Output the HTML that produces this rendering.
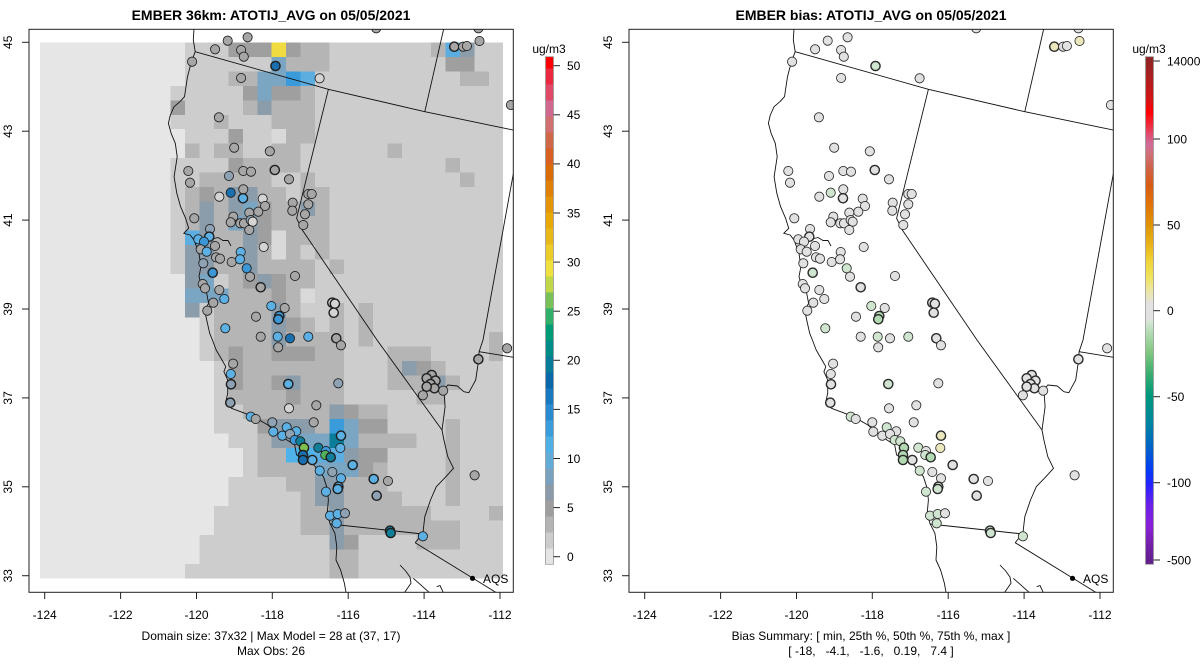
<!DOCTYPE html>
<html><head><meta charset="utf-8">
<style>
html,body{margin:0;padding:0;background:#fff;}
svg{display:block;font-family:"Liberation Sans",Arial,sans-serif;}
text{fill:#000;}
</style></head><body>
<svg id="s" width="1200" height="672" viewBox="0 0 1200 672" xmlns="http://www.w3.org/2000/svg">
<defs>
<clipPath id="clip"><rect x="29" y="29.3" width="484.3" height="563"/></clipPath>
<linearGradient id="bias" x1="0" y1="0" x2="0" y2="1">
<stop offset="0" stop-color="#8b2525"/><stop offset="0.036" stop-color="#a82020"/><stop offset="0.085" stop-color="#d41414"/><stop offset="0.109" stop-color="#ff0000"/><stop offset="0.133" stop-color="#f02838"/><stop offset="0.152" stop-color="#e04a6a"/><stop offset="0.172" stop-color="#d06c98"/><stop offset="0.192" stop-color="#d07078"/><stop offset="0.219" stop-color="#d06448"/><stop offset="0.253" stop-color="#d85c14"/><stop offset="0.292" stop-color="#e07408"/><stop offset="0.332" stop-color="#e09408"/><stop offset="0.371" stop-color="#e8b418"/><stop offset="0.404" stop-color="#f0d438"/><stop offset="0.436" stop-color="#f0e460"/><stop offset="0.459" stop-color="#ece6a0"/><stop offset="0.479" stop-color="#e6e4cc"/><stop offset="0.485" stop-color="#e2e2e2"/><stop offset="0.515" stop-color="#e2e2e2"/><stop offset="0.523" stop-color="#d2e6d2"/><stop offset="0.55" stop-color="#aad8aa"/><stop offset="0.582" stop-color="#80c880"/><stop offset="0.621" stop-color="#40b070"/><stop offset="0.668" stop-color="#00987c"/><stop offset="0.716" stop-color="#00889c"/><stop offset="0.765" stop-color="#0066c4"/><stop offset="0.81" stop-color="#0040f0"/><stop offset="0.842" stop-color="#2424ff"/><stop offset="0.883" stop-color="#6a20ea"/><stop offset="0.923" stop-color="#8a20d8"/><stop offset="0.962" stop-color="#7420aa"/><stop offset="1" stop-color="#602088"/>
</linearGradient>
<g id="lines" fill="none" stroke="#111" stroke-width="0.9" stroke-linejoin="round">
<polyline points="194,29 193.3,40 195.2,51.7 191.4,61.7 187.5,76.7 184.5,96.7 179.9,101.7 174.1,106.7 170.3,115 168.4,123.3 171.1,133.3 175.3,143.3 177.2,156.7 174.1,176.7 176.8,193.3 180.6,206.7 185.6,218.3 188.7,228.3 183.7,233.3 190.2,235 194,240 199,253.3 200.9,266.7 199,276.7 202,286.7 206.7,293.3 208.6,303.3 204.7,310 206.7,320 209.7,333.3 212.4,340 216.2,350 222,360 225.8,366.7 223.9,371.7 227.7,380 227.7,393.3 225.8,401.7 231.5,408.3 244.9,413.3 256.4,418.3 267.9,425 275.5,431.7 287,440 294.7,445 296.6,455 306.2,460 313.8,465 323.4,476.7 327.2,488.3 328.4,500 327.2,513.3 329.9,523.3 334.9,533.3 336.8,546.7 336,560 340.6,570 344.4,583.3 346.3,594"/>
<polyline points="204,240 212,239 218,237.5 223,240.5 228,240.5 231,246"/>
<polyline points="195.2,51.7 328.4,89.3 424.8,111.7 514,130.2"/>
<polyline points="328.4,89.3 296.6,218.3 302.3,230 377,340 442,430"/>
<polyline points="424.8,111.7 443.9,28"/>
<polyline points="514,170 483,340 479.1,351.7 514,357.4"/>
<polyline points="479.1,351.7 478.4,361.7 475.7,380 468.8,392.7 463.8,391.7 457.3,386 447.8,385 443.9,390 445.1,406.7 442,430 443.9,440 447.8,456.7 453.5,468.3 445.9,476.7 436.3,486.7 430.5,500 424.8,516.7 422.9,533.3 415.2,542.7"/>
<polyline points="329.9,524 422.9,534"/>
<polyline points="415.2,542.7 473,578.3 498.5,594"/>
<polyline points="400,565 405.7,571 410,577 411,583.3 403.5,594"/>
<polyline points="413.3,578.3 431,594"/>
<polyline points="436.7,586.7 440,585.5 444,594"/>
</g>
</defs>

<!-- LEFT PANEL -->
<g id="p1">
<text x="271" y="20" text-anchor="middle" font-weight="bold" font-size="14">EMBER 36km: ATOTIJ_AVG on 05/05/2021</text>
<g id="grid" clip-path="url(#clip)" shape-rendering="crispEdges"></g>
<g clip-path="url(#clip)"><use href="#lines"/></g>
<g id="c1" clip-path="url(#clip)"></g>
<circle cx="472.5" cy="578.3" r="2.6" fill="#000"/>
<text x="483" y="583" font-size="12">AQS</text>
<rect x="29" y="29.3" width="484.3" height="563" fill="none" stroke="#222" stroke-width="1"/>
<g stroke="#222" stroke-width="1">
<line x1="44.7" y1="592.3" x2="44.7" y2="599"/><line x1="120.6" y1="592.3" x2="120.6" y2="599"/><line x1="196.5" y1="592.3" x2="196.5" y2="599"/><line x1="272.3" y1="592.3" x2="272.3" y2="599"/><line x1="348.2" y1="592.3" x2="348.2" y2="599"/><line x1="424.1" y1="592.3" x2="424.1" y2="599"/><line x1="500" y1="592.3" x2="500" y2="599"/>
<line x1="22" y1="42.3" x2="29" y2="42.3"/><line x1="22" y1="131.2" x2="29" y2="131.2"/><line x1="22" y1="220.1" x2="29" y2="220.1"/><line x1="22" y1="309" x2="29" y2="309"/><line x1="22" y1="397.9" x2="29" y2="397.9"/><line x1="22" y1="486.8" x2="29" y2="486.8"/><line x1="22" y1="575.7" x2="29" y2="575.7"/>
</g>
<g font-size="12" text-anchor="middle">
<text x="44.7" y="619">-124</text><text x="120.6" y="619">-122</text><text x="196.5" y="619">-120</text><text x="272.3" y="619">-118</text><text x="348.2" y="619">-116</text><text x="424.1" y="619">-114</text><text x="500" y="619">-112</text>
<text transform="translate(11.8,42.3) rotate(-90)">45</text>
<text transform="translate(11.8,131.2) rotate(-90)">43</text>
<text transform="translate(11.8,220.1) rotate(-90)">41</text>
<text transform="translate(11.8,309) rotate(-90)">39</text>
<text transform="translate(11.8,397.9) rotate(-90)">37</text>
<text transform="translate(11.8,486.8) rotate(-90)">35</text>
<text transform="translate(11.8,575.7) rotate(-90)">33</text>
<text x="271" y="640">Domain size: 37x32 | Max Model = 28 at (37, 17)</text>
<text x="271" y="655">Max Obs: 26</text>
<text x="549" y="53">ug/m3</text>
</g>
<g id="cb1" shape-rendering="crispEdges"></g>
<rect x="545.5" y="56.7" width="8" height="507.6" fill="none" stroke="#999" stroke-width="0.8"/>
<g stroke="#222" stroke-width="1">
<line x1="553.5" y1="556.7" x2="560" y2="556.7"/><line x1="553.5" y1="507.6" x2="560" y2="507.6"/><line x1="553.5" y1="458.5" x2="560" y2="458.5"/><line x1="553.5" y1="409.4" x2="560" y2="409.4"/><line x1="553.5" y1="360.3" x2="560" y2="360.3"/><line x1="553.5" y1="311.2" x2="560" y2="311.2"/><line x1="553.5" y1="262.1" x2="560" y2="262.1"/><line x1="553.5" y1="213" x2="560" y2="213"/><line x1="553.5" y1="163.9" x2="560" y2="163.9"/><line x1="553.5" y1="114.8" x2="560" y2="114.8"/><line x1="553.5" y1="65.7" x2="560" y2="65.7"/>
</g>
<g font-size="12">
<text x="567" y="561">0</text><text x="567" y="511.9">5</text><text x="567" y="462.8">10</text><text x="567" y="413.7">15</text><text x="567" y="364.6">20</text><text x="567" y="315.5">25</text><text x="567" y="266.4">30</text><text x="567" y="217.3">35</text><text x="567" y="168.2">40</text><text x="567" y="119.1">45</text><text x="567" y="70">50</text>
</g>
</g>

<!-- RIGHT PANEL -->
<g id="p2" transform="translate(600,0)">
<text x="271" y="20" text-anchor="middle" font-weight="bold" font-size="14">EMBER bias: ATOTIJ_AVG on 05/05/2021</text>
<g clip-path="url(#clip)"><use href="#lines"/></g>
<g id="c2" clip-path="url(#clip)"></g>
<circle cx="472.5" cy="578.3" r="2.6" fill="#000"/>
<text x="483" y="583" font-size="12">AQS</text>
<rect x="29" y="29.3" width="484.3" height="563" fill="none" stroke="#222" stroke-width="1"/>
<g stroke="#222" stroke-width="1">
<line x1="44.7" y1="592.3" x2="44.7" y2="599"/><line x1="120.6" y1="592.3" x2="120.6" y2="599"/><line x1="196.5" y1="592.3" x2="196.5" y2="599"/><line x1="272.3" y1="592.3" x2="272.3" y2="599"/><line x1="348.2" y1="592.3" x2="348.2" y2="599"/><line x1="424.1" y1="592.3" x2="424.1" y2="599"/><line x1="500" y1="592.3" x2="500" y2="599"/>
<line x1="22" y1="42.3" x2="29" y2="42.3"/><line x1="22" y1="131.2" x2="29" y2="131.2"/><line x1="22" y1="220.1" x2="29" y2="220.1"/><line x1="22" y1="309" x2="29" y2="309"/><line x1="22" y1="397.9" x2="29" y2="397.9"/><line x1="22" y1="486.8" x2="29" y2="486.8"/><line x1="22" y1="575.7" x2="29" y2="575.7"/>
</g>
<g font-size="12" text-anchor="middle">
<text x="44.7" y="619">-124</text><text x="120.6" y="619">-122</text><text x="196.5" y="619">-120</text><text x="272.3" y="619">-118</text><text x="348.2" y="619">-116</text><text x="424.1" y="619">-114</text><text x="500" y="619">-112</text>
<text transform="translate(11.8,42.3) rotate(-90)">45</text>
<text transform="translate(11.8,131.2) rotate(-90)">43</text>
<text transform="translate(11.8,220.1) rotate(-90)">41</text>
<text transform="translate(11.8,309) rotate(-90)">39</text>
<text transform="translate(11.8,397.9) rotate(-90)">37</text>
<text transform="translate(11.8,486.8) rotate(-90)">35</text>
<text transform="translate(11.8,575.7) rotate(-90)">33</text>
<text x="271" y="640">Bias Summary: [ min, 25th %, 50th %, 75th %, max ]</text>
<text x="271" y="655" style="white-space:pre">[ -18,   -4.1,   -1.6,   0.19,   7.4 ]</text>
<text x="549" y="53">ug/m3</text>
</g>
<rect x="545.5" y="56.7" width="8" height="507.6" fill="url(#bias)" stroke="#999" stroke-width="0.8"/>
<g stroke="#222" stroke-width="1">
<line x1="553.5" y1="61" x2="560" y2="61"/><line x1="553.5" y1="139" x2="560" y2="139"/><line x1="553.5" y1="225" x2="560" y2="225"/><line x1="553.5" y1="310.7" x2="560" y2="310.7"/><line x1="553.5" y1="396.7" x2="560" y2="396.7"/><line x1="553.5" y1="482.7" x2="560" y2="482.7"/><line x1="553.5" y1="560" x2="560" y2="560"/>
</g>
<g font-size="12">
<text x="567" y="65.3">14000</text><text x="567" y="143.3">100</text><text x="567" y="229.3">50</text><text x="567" y="315">0</text><text x="567" y="401">-50</text><text x="567" y="487">-100</text><text x="567" y="564.3">-500</text>
</g>
</g>
</svg>
<script>
(function(){
var NS='http://www.w3.org/2000/svg';
function el(tag,a,p){var e=document.createElementNS(NS,tag);for(var k in a)e.setAttribute(k,a[k]);p.appendChild(e);return e;}
var rows=[
"OOOOOOOOOOLLLDDDYDMMLLLLLLLMcbLL",
"OOOOOOOOOOLLLLLLsMMMLLLLLLLLDDLL",
"OOOOOOOOOOLLLMMssBcLLLLLLLLLLMML",
"OOOOOOOOOLLLLLDsDDMLLLLLLLLLLLLL",
"OOOOOOOOODLLLLMbMMMLLLLLLLLLLLLL",
"OOOOOOOOOLLLMLLLMMMLLLLLLLLLLLLL",
"OOOOOOOOOOLLLDLLlMMLLLLLLLLLLLLL",
"OOOOOOOOOOMLMMLLMMLLLLLLMLLLLLLL",
"OOOOOOOOOLLLLDMMMMLLLLLLLLLLMLLL",
"OOOOOOOOOLLMMMMMLLMLLLLLLLLLLMLL",
"OOOOOOOOOLMDMbbMMLMMLLLLLLLLLLLL",
"OOOOOOOOOLMbMbsDMMbMLLLLLLLLLLLL",
"OOOOOOOOOLMbMsbDMMMMLLLLLLLLLLLL",
"OOOOOOOOOLcbMMbDlMMMLLLLLLLLLLLL",
"OOOOOOOOOLbbMMbMlMLMLLLLLLLLLLLL",
"OOOOOOOOOLbbMMbMMMMLMLLLLLLLLLLL",
"OOOOOOOOOObsLMDbDMMLLLLLLLLLLLLL",
"OOOOOOOOOOsssMMMDMlLLLLLLLLLLLLL",
"OOOOOOOOOObLMMMMbMLLMLMLLLLLLLLL",
"OOOOOOOOOOOLMMMMbDMLMLMLLLLLLLLL",
"OOOOOOOOOOOLMMMMbMMMMLMLLLLLLLLM",
"OOOOOOOOOOOLMDMMDDDMMLLLMMMLLLLM",
"OOOOOOOOOOOOLDMMMMMMMLLLMbDMLLLL",
"OOOOOOOOOOOOLDMMDbMMMLLLMMMbMLLL",
"OOOOOOOOOOOOLMMMMDMMMLLLLLMMLLLL",
"OOOOOOOOOOOOLLMMMMMMbDMMLLLLLLLL",
"OOOOOOOOOOOOLLLDbbbMBsDDLLLLMLLL",
"OOOOOOOOOOOOOLLMbbssTsMMMMLLMLLL",
"OOOOOOOOOOOOOOLMMCCccbDDLLLLMLLL",
"OOOOOOOOOOOOOOLMMMMsssDMLLLLMLLL",
"OOOOOOOOOOOOOLLLLMMbbMMMLLLLMLLL",
"OOOOOOOOOOOOOLLLLLMbbMMMMLLLMLLL",
"OOOOOOOOOOOOLLLLLLMMbMMMMMMLLLLM",
"OOOOOOOOOOOOLLLLLLMMbMMMMMMMMLLL",
"OOOOOOOOOOOLLLLLLLLLbDLLLLMMMLLL",
"OOOOOOOOOOOLLLLLLLLLMMLLLLLLLLLL",
"OOOOOOOOOOLLLLLLLLLLMMLLLLLLLLLL"];
var cm={O:'#e6e6e6',L:'#cdcdcd',l:'#d9d9d9',M:'#b5b5b5',D:'#9f9f9f',b:'#8b9cab',s:'#7aa5c3',c:'#5daee0',C:'#4fb2e8',B:'#3a9bdb',T:'#0b7d99',Y:'#f0dc40'};
var g=document.getElementById('grid');
var X0=40.2,Y0=42.3,CW=14.47,CH=14.49;
for(var r=0;r<rows.length;r++){var s=rows[r];var c=0;while(c<32){var ch=s[c];var n=1;while(c+n<32&&s[c+n]===ch)n++;
el('rect',{x:(X0+c*CW).toFixed(2),y:(Y0+r*CH).toFixed(2),width:(n*CW+(c+n<32?0.6:0)).toFixed(2),height:(CH+(r<36?0.6:0)).toFixed(2),fill:cm[ch]},g);c+=n;}}
var cb=['#e5e5e5','#cccccc','#b4b4b4','#9e9e9e','#8a9aa8','#78a2bf','#62acd8','#4eb0e4','#3a9edc','#2a8cd0','#1878c0','#0868aa','#087c98','#008c88','#009c78','#30b068','#78c058','#c0d848','#f0e040','#eccc28','#e8b818','#e8a808','#e49408','#e08008','#da6c08','#d86020','#d06848','#d07070','#d06890','#e04868','#ec2840','#ff0000'];
var cbg=document.getElementById('cb1');
for(var i=0;i<cb.length;i++){var yb=564.3-16*i;var yt=Math.max(56.7,yb-16);el('rect',{x:545.5,y:yt.toFixed(2),width:8,height:(yb-yt+0.3).toFixed(2),fill:cb[i]},cbg);}
var LC={g:'#a6a6a6',w:'#d4d4d4',gb:'#8ea2b3',lb:'#5cb0e3',bl:'#3b97d6',db:'#1c6fae',te:'#117f99',gr:'#7dc24f',gr2:'#4fb35a'};
var RC={n:'#e1e1e1',g1:'#cfe5cf',g2:'#b3d9b3',y1:'#ebe7bd'};
var P=[
[227.7,40.7,'g','n',0],[247.6,37.3,'g','n',0],[215.1,49.3,'g','n',0],[241.1,50,'g','n',0],[243.8,56.7,'g','n',0],[192.1,61.7,'g','n',0],
[275.5,66,'db','g1',1],[241.1,78,'g','n',0],[319.6,78.3,'w','n',0],[376.2,28.3,'g','n',0],
[454.3,46.7,'g','y1',1],[463.1,46.7,'g','n',0],[466.9,46,'g','n',0],[478.4,28.3,'g','n',0],[479.5,41,'g','y1',0],[510.9,105,'g','n',0],
[218.9,117.3,'g','n',0],[234.2,147.7,'g','n',0],[269.8,151.3,'g','n',0],[274.8,170,'g','n',1],
[188.3,171,'g','n',0],[229,176,'gb','n',0],[243.3,171,'g','n',0],[251,171.7,'g','n',0],[289,179.3,'g','n',0],[190,182.7,'g','n',0],
[230.7,192.7,'db','g1',0],[219.3,196.7,'w','n',0],[243.3,189.3,'g','n',0],[243,198.3,'lb','n',1],[262.7,198.7,'w','n',0],[265,206,'g','n',0],
[258.3,211.7,'g','n',0],[249.3,212.7,'g','n',0],[233.3,216.7,'g','n',0],[230.7,222.3,'g','n',0],[240.3,223.3,'g','n',0],[244,223.3,'g','n',0],
[250.7,220,'gb','n',0],[252.7,221.7,'w','n',0],[249.3,230,'g','n',0],[194.3,218.3,'g','n',0],[292.7,202.7,'g','n',0],[292.3,210.7,'g','n',0],
[308.3,194,'g','n',0],[311.7,194,'g','n',0],[308.3,204.3,'g','n',0],[305,214.3,'g','n',0],[303.3,225,'g','n',0],
[210,229,'gb','n',0],[209.3,236.7,'lb','n',1],[198.3,239.3,'lb','n',0],[204,241.7,'bl','n',0],[200.7,249.3,'g','n',0],[206.7,251.7,'lb','n',0],[215,246,'g','n',0],
[240.7,252,'lb','n',0],[263.7,247,'w','n',0],[203.3,263.3,'gb','n',0],[216,257.3,'g','n',0],[220,258.7,'g','n',0],[231.7,262,'g','n',0],[240,259.3,'lb','n',0],
[212.7,272.7,'bl','g1',1],[246.7,268.3,'bl','g1',0],[250,276.7,'g','n',0],[295,276,'g','n',0],[202.7,284,'g','n',0],[205,288.3,'g','n',0],
[219.3,290,'g','n',0],[224.3,299,'lb','n',0],[260.7,287.3,'g','n',1],[213.3,302.7,'g','n',0],[207.3,310.7,'g','n',0],[271.3,306,'lb','g1',0],
[284.7,308,'g','n',0],[279.3,316,'bl','g2',1],[278.3,319.3,'bl','g2',1],[256,316.7,'g','n',0],
[332.3,302.7,'w','n',1],[334.9,303.7,'w','n',1],[333.7,312.7,'w','n',1],
[225.3,328.3,'lb','g1',0],[260.7,336.7,'g','n',0],[277.7,336.7,'lb','g1',0],[290,338.3,'db','n',0],[308.3,336.7,'lb','g1',0],[336.3,338.3,'g','n',1],
[341,345.3,'g','n',0],[278.2,347.3,'g','n',0],[233.1,363.7,'g','n',0],[230.8,374,'lb','n',0],
[231,384.3,'gb','n',1],[288.3,384,'lb','g1',1],[338.3,383.3,'gb','n',0],[230.3,402.7,'gb','n',1],[289,408.3,'w','n',0],[316.3,405.3,'g','n',0],
[250.7,416.7,'lb','g1',0],[255.7,419,'g','n',0],[272.3,422.3,'gb','n',0],[313.7,422.3,'g','n',0],[286.7,427.3,'lb','g1',0],[296.3,431.3,'lb','n',0],
[273.3,431.7,'lb','n',0],[282.3,435.7,'lb','n',0],[290,434,'gb','n',0],[294.7,440,'bl','g1',0],[300.3,441.3,'te','g1',0],
[304,447.7,'gr','g2',1],[303,455,'db','g2',1],[303,460,'db','g2',1],[312.3,460,'lb','n',1],[318.3,447.7,'te','g1',0],[326,451,'bl','n',0],
[325.3,455,'gr2','g1',0],[330.7,457.3,'te','g2',1],[341,435.7,'lb','y1',1],[340.3,448,'lb','y1',0],[352.7,465,'lb','n',1],
[319.7,470.7,'lb','g1',0],[332.3,472,'gb','n',0],[341,478.3,'lb','n',0],[338.3,486.7,'lb','g1',1],[337.7,489,'lb','g1',1],[326,491.7,'lb','g1',0],
[373.7,479,'lb','n',1],[388,481,'g','n',0],[376.7,495.7,'gb','n',1],[330,515.7,'lb','g1',0],[337.7,514,'lb','g1',0],[345,513.3,'gb','n',0],
[336.7,523.3,'lb','g1',0],[474.6,475.3,'g','n',0],[390,530.7,'te','g1',1],[390.7,533,'te','g1',1],[422.9,536.3,'lb','g1',0],
[478.4,359.3,'g','n',1],[507.1,348.3,'g','n',0],
[431.7,375,'g','n',1],[426.7,378.3,'g','n',1],[435.5,380.7,'g','n',1],[430.5,384,'g','n',1],[434.4,388.3,'g','n',1],[426.7,386.7,'g','n',1],
[443.2,390.7,'g','n',0],[422.9,395.3,'g','n',0]
];
var c1=document.getElementById('c1'),c2=document.getElementById('c2');
for(var k=0;k<P.length;k++){var p=P[k];var sw=p[4]?1.4:0.85;
el('circle',{cx:p[0],cy:p[1],r:4.6,fill:LC[p[2]],stroke:'#1e1e1e','stroke-width':sw},c1);
el('circle',{cx:p[0],cy:p[1],r:4.6,fill:RC[p[3]],stroke:'#2a2a2a','stroke-width':sw},c2);}
})();
</script>
</body></html>
